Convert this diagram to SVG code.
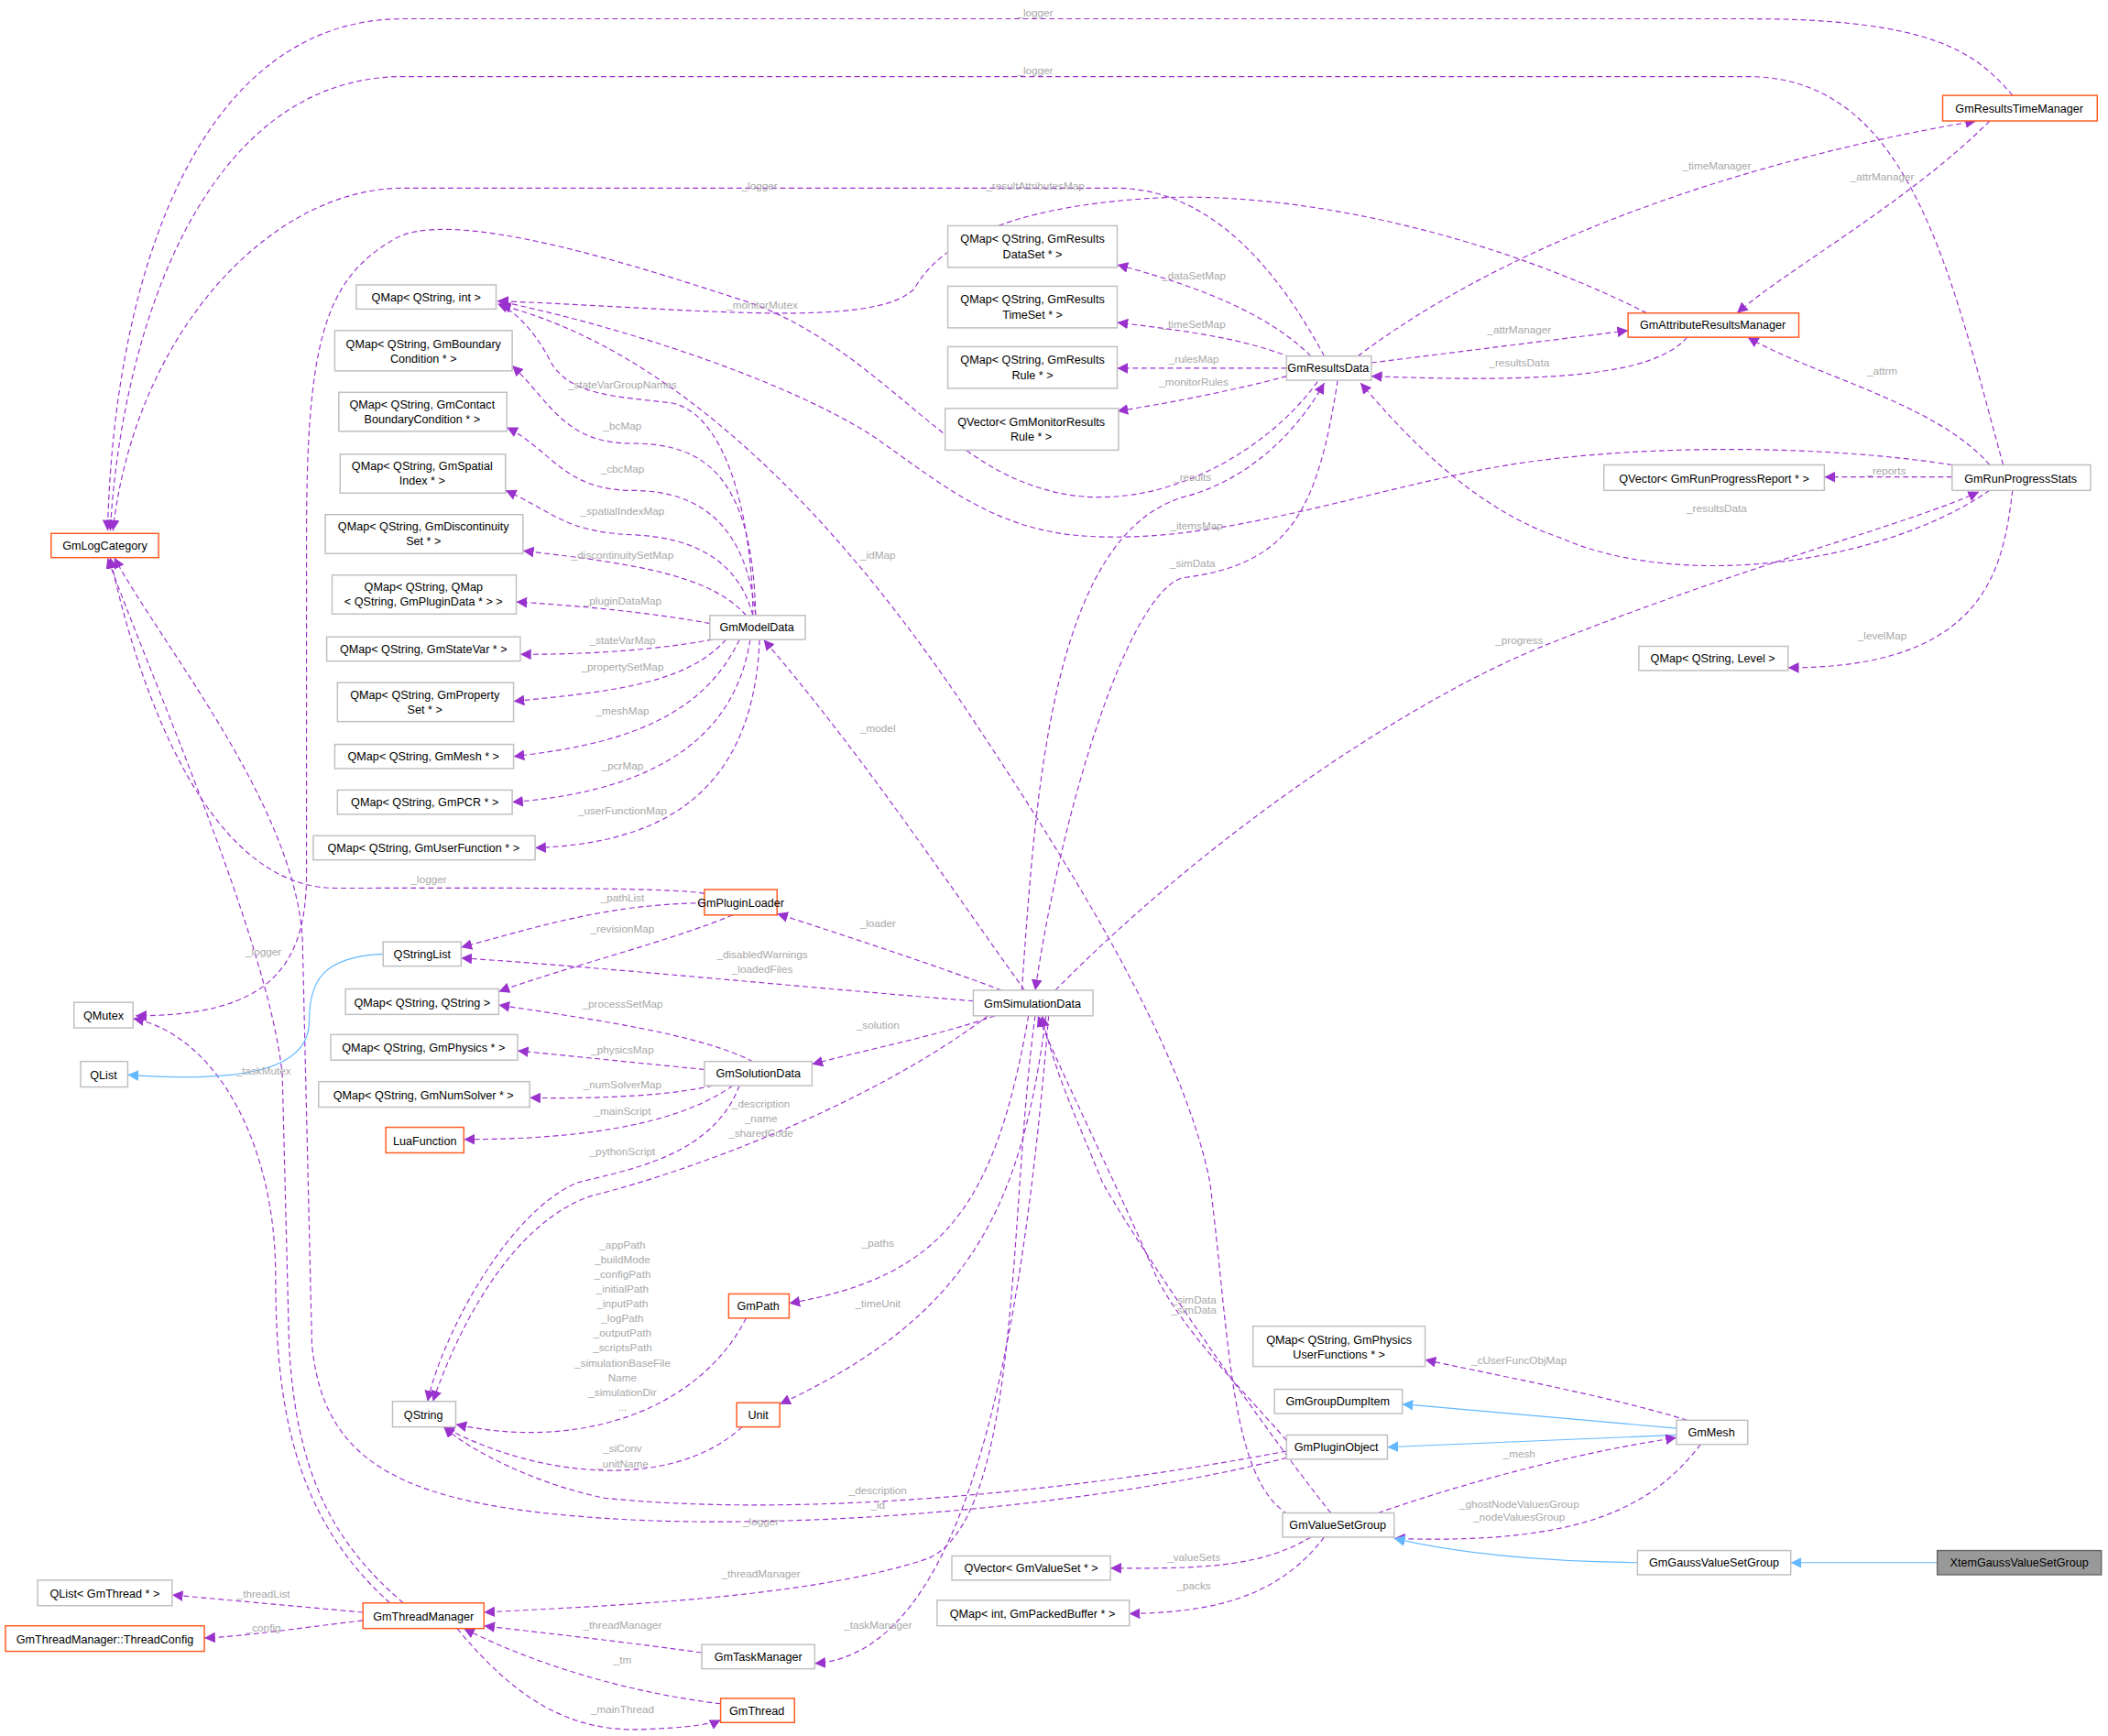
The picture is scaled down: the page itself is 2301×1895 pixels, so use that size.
<svg xmlns="http://www.w3.org/2000/svg" width="2301" height="1895" viewBox="0 0 2301 1895">
<style>
.n rect{fill:#fff;stroke:#bfbfbf;stroke-width:1}
.o rect{fill:#fff;stroke:#ff5a1f;stroke-width:1}
.x rect{fill:#999;stroke:#666;stroke-width:1}
text{font-family:"Liberation Sans",Arial,sans-serif}
.n text,.o text,.x text{font-size:8.6px;fill:#000;text-anchor:middle}
.e path{fill:none;stroke:#9a32cd;stroke-width:0.8;stroke-dasharray:4,2.5;marker-end:url(#a)}
.e path.b{stroke:#63b8ff;stroke-dasharray:none;marker-end:url(#b)}
.l text{font-size:8px;fill:#a8a8a8;text-anchor:middle}
</style>
<defs>
<marker id="a" viewBox="0 0 10 10" refX="10" refY="5" markerWidth="8" markerHeight="8" markerUnits="userSpaceOnUse" orient="auto"><path d="M0,0L10,5L0,10z" fill="#9a32cd"/></marker>
<marker id="b" viewBox="0 0 10 10" refX="10" refY="5" markerWidth="8" markerHeight="8" markerUnits="userSpaceOnUse" orient="auto"><path d="M0,0L10,5L0,10z" fill="#63b8ff"/></marker>
</defs>
<rect width="2301" height="1895" fill="#fff"/>
<g transform="scale(1.4675,1.4667)">
<g class="e" id="edges">
<path d="M1497,71 C1470,40 1440,14 1300,14 L300,14 C150,14 85,200 80,395"/>
<path d="M1490,346 C1450,200 1420,57 1300,57 L300,57 C150,57 90,250 82,395"/>
<path d="M985,265 C950,200 900,140 830,140 L300,140 C200,140 100,250 84,395"/>
<path d="M1225,233 C1100,170 950,140 850,148 C750,155 700,180 680,215 C650,245 520,230 370,224"/>
<path d="M980,284 C940,340 850,390 770,362 C700,340 650,260 560,226 C480,200 330,150 290,180 C240,210 228,260 228,400 L228,650 C228,720 200,756 101,756"/>
<path d="M1452,346 C1350,330 1200,330 1100,350 C1000,370 900,405 808,399 C740,395 700,360 650,325 C580,280 450,240 370,224"/>
<path d="M560,458 C560,400 545,310 500,300 C460,295 425,295 410,270 C400,250 385,232 370,226"/>
<path d="M958,1127 C915,1100 915,1000 900,880 C880,780 800,650 720,530 C620,380 500,260 372,227"/>
<path d="M760,737 C770,600 780,400 880,370 C920,360 960,330 985,285"/>
<path d="M995,283 C980,380 960,420 880,430 C840,440 790,600 770,737"/>
<path d="M1480,365 C1400,420 1250,440 1160,400 C1100,380 1050,330 1012,285"/>
<path d="M1020,270 L1211,246"/>
<path d="M1255,251 C1230,280 1150,285 1020,280"/>
<path d="M1010,265 C1150,160 1350,110 1470,90"/>
<path d="M1480,90 C1420,150 1330,200 1292,233"/>
<path d="M1480,346 C1440,300 1350,280 1300,251"/>
<path d="M1452,355 L1357,355"/>
<path d="M1497,365 C1490,420 1480,497 1330,497"/>
<path d="M785,737 C900,620 1050,520 1150,480 C1300,420 1420,390 1472,366"/>
<path d="M975,265 C940,230 880,210 831,197"/>
<path d="M960,266 C920,250 870,245 831,240"/>
<path d="M957,274 L831,274"/>
<path d="M957,280 C920,290 870,300 831,306"/>
<path d="M957,1072 C920,1030 880,990 860,950 C830,880 790,800 772,756"/>
<path d="M990,1126 C960,1090 860,950 820,880 C800,830 785,800 775,756"/>
<path d="M762,737 C700,650 640,560 568,476"/>
<path d="M745,737 C700,720 640,700 578,680"/>
<path d="M724,745 C600,735 450,720 343,713"/>
<path d="M740,756 C700,770 650,780 604,792"/>
<path d="M735,756 C650,820 520,870 440,890 C380,910 340,990 322,1043"/>
<path d="M550,808 C530,860 470,870 430,880 C380,900 330,990 318,1043"/>
<path d="M765,756 C740,900 700,950 587,970"/>
<path d="M778,756 C760,900 720,980 580,1045"/>
<path d="M770,756 C750,900 760,1130 690,1160 C600,1190 450,1195 360,1200"/>
<path d="M780,756 C760,1000 720,1230 606,1238"/>
<path d="M957,1080 C800,1110 600,1130 450,1115 C400,1105 350,1080 330,1062"/>
<path d="M957,1085 C820,1120 600,1140 450,1130 C300,1120 240,1090 232,1000 L225,700 C220,600 120,480 85,415"/>
<path d="M524,665 C500,660 350,661 250,661 C150,661 100,500 82,415"/>
<path d="M300,1193 C250,1150 220,1100 215,1000 L210,800 C200,700 110,500 80,415"/>
<path d="M290,1193 C220,1130 205,1050 205,950 C205,850 160,770 99,758"/>
<path d="M552,1062 C500,1110 400,1100 330,1062"/>
<path d="M555,981 C520,1050 430,1080 339,1060"/>
<path d="M560,790 C520,770 450,760 371,748"/>
<path d="M524,796 L385,782"/>
<path d="M530,808 C500,815 450,818 394,817"/>
<path d="M545,808 C500,840 420,848 345,848"/>
<path d="M524,672 C450,673 400,690 343,705"/>
<path d="M545,681 C500,700 420,720 371,738"/>
<path class="b" d="M285,710 C240,712 230,730 230,760 C230,800 170,805 95,800"/>
<path d="M270,1200 L128,1187"/>
<path d="M270,1206 C220,1212 180,1218 152,1219"/>
<path d="M522,1230 C450,1220 400,1215 360,1210"/>
<path d="M536,1268 C470,1260 400,1240 345,1212"/>
<path d="M340,1212 C380,1260 420,1290 480,1287 C510,1286 530,1283 536,1280"/>
<path d="M562,458 C560,350 520,330 470,330 C420,330 410,300 381,272"/>
<path d="M562,458 C555,390 520,365 470,365 C420,365 410,335 377,318"/>
<path d="M560,458 C550,420 520,400 470,398 C420,396 410,380 376,365"/>
<path d="M555,458 C530,430 480,420 389,410"/>
<path d="M528,464 C480,455 420,450 384,448"/>
<path d="M530,476 C480,485 430,487 387,487"/>
<path d="M540,476 C510,510 450,515 382,522"/>
<path d="M550,476 C520,540 450,555 382,563"/>
<path d="M558,476 C545,560 470,590 381,597"/>
<path d="M565,476 C560,600 480,628 398,631"/>
<path d="M1255,1057 C1200,1040 1120,1025 1060,1012"/>
<path class="b" d="M1247,1063 L1043,1045"/>
<path class="b" d="M1247,1068 L1032,1077"/>
<path d="M1025,1126 C1100,1100 1180,1080 1247,1070"/>
<path d="M1265,1075 C1230,1120 1180,1150 1037,1145"/>
<path class="b" d="M1218,1163 C1140,1162 1080,1155 1037,1145"/>
<path class="b" d="M1441,1163 L1332,1163"/>
<path d="M975,1144 C940,1165 900,1168 826,1167"/>
<path d="M985,1144 C950,1190 900,1200 840,1201"/>
</g>
<g class="l" id="labels">
<text x="770" y="12">_logger</text>
<text x="770" y="55">_logger</text>
<text x="565" y="141">_logger</text>
<text x="770" y="141">_resultAttributesMap</text>
<text x="567" y="230">_monitorMutex</text>
<text x="890" y="394">_itemsMap</text>
<text x="463" y="289">_stateVarGroupNames</text>
<text x="653" y="416">_idMap</text>
<text x="887" y="358">_results</text>
<text x="887" y="422">_simData</text>
<text x="1277" y="381">_resultsData</text>
<text x="1130" y="248">_attrManager</text>
<text x="1130" y="273">_resultsData</text>
<text x="1277" y="126">_timeManager</text>
<text x="1400" y="134">_attrManager</text>
<text x="1400" y="279">_attrm</text>
<text x="1403" y="353">_reports</text>
<text x="1400" y="476">_levelMap</text>
<text x="1130" y="479">_progress</text>
<text x="888" y="208">_dataSetMap</text>
<text x="888" y="244">_timeSetMap</text>
<text x="888" y="270">_rulesMap</text>
<text x="888" y="287">_monitorRules</text>
<text x="888" y="970">_simData</text>
<text x="888" y="978">_simData</text>
<text x="653" y="545">_model</text>
<text x="653" y="690">_loader</text>
<text x="567" y="713">_disabledWarnings</text>
<text x="567" y="724">_loadedFiles</text>
<text x="653" y="766">_solution</text>
<text x="566" y="824">_description</text>
<text x="566" y="835">_name</text>
<text x="566" y="846">_sharedCode</text>
<text x="463" y="860">_pythonScript</text>
<text x="463" y="929">_appPath</text>
<text x="463" y="940">_buildMode</text>
<text x="463" y="951">_configPath</text>
<text x="463" y="962">_initialPath</text>
<text x="463" y="973">_inputPath</text>
<text x="463" y="984">_logPath</text>
<text x="463" y="995">_outputPath</text>
<text x="463" y="1006">_scriptsPath</text>
<text x="463" y="1017">_simulationBaseFile</text>
<text x="463" y="1028">Name</text>
<text x="463" y="1039">_simulationDir</text>
<text x="463" y="1050">...</text>
<text x="653" y="928">_paths</text>
<text x="653" y="973">_timeUnit</text>
<text x="566" y="1174">_threadManager</text>
<text x="653" y="1212">_taskManager</text>
<text x="653" y="1112">_description</text>
<text x="653" y="1123">_id</text>
<text x="566" y="1135">_logger</text>
<text x="319" y="657">_logger</text>
<text x="196" y="711">_logger</text>
<text x="196" y="800">_taskMutex</text>
<text x="463" y="1081">_siConv</text>
<text x="463" y="1092">_unitName</text>
<text x="463" y="750">_processSetMap</text>
<text x="463" y="784">_physicsMap</text>
<text x="463" y="810">_numSolverMap</text>
<text x="463" y="830">_mainScript</text>
<text x="463" y="671">_pathList</text>
<text x="463" y="694">_revisionMap</text>
<text x="196" y="1189">_threadList</text>
<text x="196" y="1214">_config</text>
<text x="463" y="1212">_threadManager</text>
<text x="463" y="1238">_tm</text>
<text x="463" y="1275">_mainThread</text>
<text x="463" y="320">_bcMap</text>
<text x="463" y="352">_cbcMap</text>
<text x="463" y="383">_spatialIndexMap</text>
<text x="463" y="416">_discontinuitySetMap</text>
<text x="463" y="450">_pluginDataMap</text>
<text x="463" y="479">_stateVarMap</text>
<text x="463" y="499">_propertySetMap</text>
<text x="463" y="532">_meshMap</text>
<text x="463" y="573">_pcrMap</text>
<text x="463" y="606">_userFunctionMap</text>
<text x="1130" y="1015">_cUserFuncObjMap</text>
<text x="1130" y="1085">_mesh</text>
<text x="1130" y="1122">_ghostNodeValuesGroup</text>
<text x="1130" y="1132">_nodeValuesGroup</text>
<text x="888" y="1162">_valueSets</text>
<text x="888" y="1183">_packs</text>
</g>
<g class="o" id="GmLogCategory"><rect x="38" y="397" width="80" height="18"/><text x="78" y="409">GmLogCategory</text></g>
<g class="n" id="QMutex"><rect x="55" y="746" width="44" height="19"/><text x="77" y="759">QMutex</text></g>
<g class="n" id="QList"><rect x="60" y="790" width="35" height="19"/><text x="77" y="803">QList</text></g>
<g class="n" id="QListGmThread"><rect x="28" y="1176" width="100" height="19"/><text x="78" y="1189">QList&lt; GmThread * &gt;</text></g>
<g class="o" id="ThreadConfig"><rect x="4" y="1210" width="148" height="19"/><text x="78" y="1223">GmThreadManager::ThreadConfig</text></g>
<g class="o" id="GmThreadManager"><rect x="270" y="1193" width="90" height="19"/><text x="315" y="1206">GmThreadManager</text></g>
<g class="o" id="GmThread"><rect x="536" y="1264" width="55" height="18"/><text x="563" y="1276">GmThread</text></g>
<g class="n" id="GmTaskManager"><rect x="522" y="1224" width="84" height="18"/><text x="564" y="1236">GmTaskManager</text></g>
<g class="n" id="QMapInt"><rect x="265" y="212" width="104" height="18"/><text x="317" y="224">QMap&lt; QString, int &gt;</text></g>
<g class="n" id="QMapBC"><rect x="249" y="246" width="132" height="30"/><text x="315" y="259">QMap&lt; QString, GmBoundary</text><text x="315" y="270">Condition * &gt;</text></g>
<g class="n" id="QMapCBC"><rect x="252" y="292" width="125" height="29"/><text x="314" y="304">QMap&lt; QString, GmContact</text><text x="314" y="315">BoundaryCondition * &gt;</text></g>
<g class="n" id="QMapSI"><rect x="253" y="338" width="123" height="29"/><text x="314" y="350">QMap&lt; QString, GmSpatial</text><text x="314" y="361">Index * &gt;</text></g>
<g class="n" id="QMapDS"><rect x="242" y="383" width="147" height="29"/><text x="315" y="395">QMap&lt; QString, GmDiscontinuity</text><text x="315" y="406">Set * &gt;</text></g>
<g class="n" id="QMapPD"><rect x="247" y="428" width="137" height="29"/><text x="315" y="440">QMap&lt; QString, QMap</text><text x="315" y="451">&lt; QString, GmPluginData * &gt; &gt;</text></g>
<g class="n" id="QMapSV"><rect x="243" y="474" width="144" height="18"/><text x="315" y="486">QMap&lt; QString, GmStateVar * &gt;</text></g>
<g class="n" id="QMapPS"><rect x="251" y="508" width="131" height="29"/><text x="316" y="520">QMap&lt; QString, GmProperty</text><text x="316" y="531">Set * &gt;</text></g>
<g class="n" id="QMapMesh"><rect x="249" y="554" width="133" height="18"/><text x="315" y="566">QMap&lt; QString, GmMesh * &gt;</text></g>
<g class="n" id="QMapPCR"><rect x="251" y="588" width="130" height="18"/><text x="316" y="600">QMap&lt; QString, GmPCR * &gt;</text></g>
<g class="n" id="QMapUF"><rect x="233" y="622" width="165" height="18"/><text x="315" y="634">QMap&lt; QString, GmUserFunction * &gt;</text></g>
<g class="n" id="GmModelData"><rect x="528" y="458" width="71" height="18"/><text x="563" y="470">GmModelData</text></g>
<g class="o" id="GmPluginLoader"><rect x="524" y="662" width="54" height="19"/><text x="551" y="675">GmPluginLoader</text></g>
<g class="n" id="QStringList"><rect x="285" y="701" width="58" height="18"/><text x="314" y="713">QStringList</text></g>
<g class="n" id="QMapQS"><rect x="257" y="736" width="114" height="19"/><text x="314" y="749">QMap&lt; QString, QString &gt;</text></g>
<g class="n" id="QMapPhys"><rect x="246" y="770" width="139" height="19"/><text x="315" y="783">QMap&lt; QString, GmPhysics * &gt;</text></g>
<g class="n" id="QMapNS"><rect x="237" y="805" width="157" height="19"/><text x="315" y="818">QMap&lt; QString, GmNumSolver * &gt;</text></g>
<g class="o" id="LuaFunction"><rect x="287" y="839" width="58" height="19"/><text x="316" y="852">LuaFunction</text></g>
<g class="n" id="GmSolutionData"><rect x="524" y="790" width="80" height="18"/><text x="564" y="802">GmSolutionData</text></g>
<g class="n" id="GmSimulationData"><rect x="724" y="737" width="89" height="19"/><text x="768" y="750">GmSimulationData</text></g>
<g class="n" id="QString"><rect x="292" y="1043" width="47" height="19"/><text x="315" y="1056">QString</text></g>
<g class="o" id="GmPath"><rect x="542" y="963" width="45" height="18"/><text x="564" y="975">GmPath</text></g>
<g class="o" id="Unit"><rect x="548" y="1044" width="32" height="18"/><text x="564" y="1056">Unit</text></g>
<g class="n" id="QMapRDS"><rect x="705" y="168" width="126" height="31"/><text x="768" y="181">QMap&lt; QString, GmResults</text><text x="768" y="192">DataSet * &gt;</text></g>
<g class="n" id="QMapRTS"><rect x="705" y="213" width="126" height="31"/><text x="768" y="226">QMap&lt; QString, GmResults</text><text x="768" y="237">TimeSet * &gt;</text></g>
<g class="n" id="QMapRR"><rect x="705" y="258" width="126" height="31"/><text x="768" y="271">QMap&lt; QString, GmResults</text><text x="768" y="282">Rule * &gt;</text></g>
<g class="n" id="QVecMR"><rect x="703" y="304" width="129" height="31"/><text x="767" y="317">QVector&lt; GmMonitorResults</text><text x="767" y="328">Rule * &gt;</text></g>
<g class="n" id="GmResultsData"><rect x="957" y="265" width="63" height="18"/><text x="988" y="277">GmResultsData</text></g>
<g class="o" id="GmAttributeResultsManager"><rect x="1211" y="233" width="127" height="18"/><text x="1274" y="245">GmAttributeResultsManager</text></g>
<g class="o" id="GmResultsTimeManager"><rect x="1445" y="71" width="115" height="19"/><text x="1502" y="84">GmResultsTimeManager</text></g>
<g class="n" id="GmRunProgressStats"><rect x="1452" y="346" width="103" height="19"/><text x="1503" y="359">GmRunProgressStats</text></g>
<g class="n" id="QVecRPR"><rect x="1193" y="346" width="164" height="19"/><text x="1275" y="359">QVector&lt; GmRunProgressReport * &gt;</text></g>
<g class="n" id="QMapLevel"><rect x="1219" y="481" width="111" height="18"/><text x="1274" y="493">QMap&lt; QString, Level &gt;</text></g>
<g class="n" id="QMapPUF"><rect x="932" y="987" width="128" height="30"/><text x="996" y="1000">QMap&lt; QString, GmPhysics</text><text x="996" y="1011">UserFunctions * &gt;</text></g>
<g class="n" id="GmGroupDumpItem"><rect x="948" y="1034" width="95" height="18"/><text x="995" y="1046">GmGroupDumpItem</text></g>
<g class="n" id="GmPluginObject"><rect x="957" y="1068" width="75" height="18"/><text x="994" y="1080">GmPluginObject</text></g>
<g class="n" id="GmMesh"><rect x="1247" y="1057" width="53" height="18"/><text x="1273" y="1069">GmMesh</text></g>
<g class="n" id="GmValueSetGroup"><rect x="954" y="1126" width="83" height="18"/><text x="995" y="1138">GmValueSetGroup</text></g>
<g class="n" id="GmGaussValueSetGroup"><rect x="1218" y="1154" width="114" height="18"/><text x="1275" y="1166">GmGaussValueSetGroup</text></g>
<g class="x" id="XtemGaussValueSetGroup"><rect x="1441" y="1154" width="122" height="18"/><text x="1502" y="1166">XtemGaussValueSetGroup</text></g>
<g class="n" id="QVecVS"><rect x="708" y="1158" width="118" height="18"/><text x="767" y="1170">QVector&lt; GmValueSet * &gt;</text></g>
<g class="n" id="QMapPB"><rect x="697" y="1191" width="143" height="19"/><text x="768" y="1204">QMap&lt; int, GmPackedBuffer * &gt;</text></g>
</g>
</svg>
